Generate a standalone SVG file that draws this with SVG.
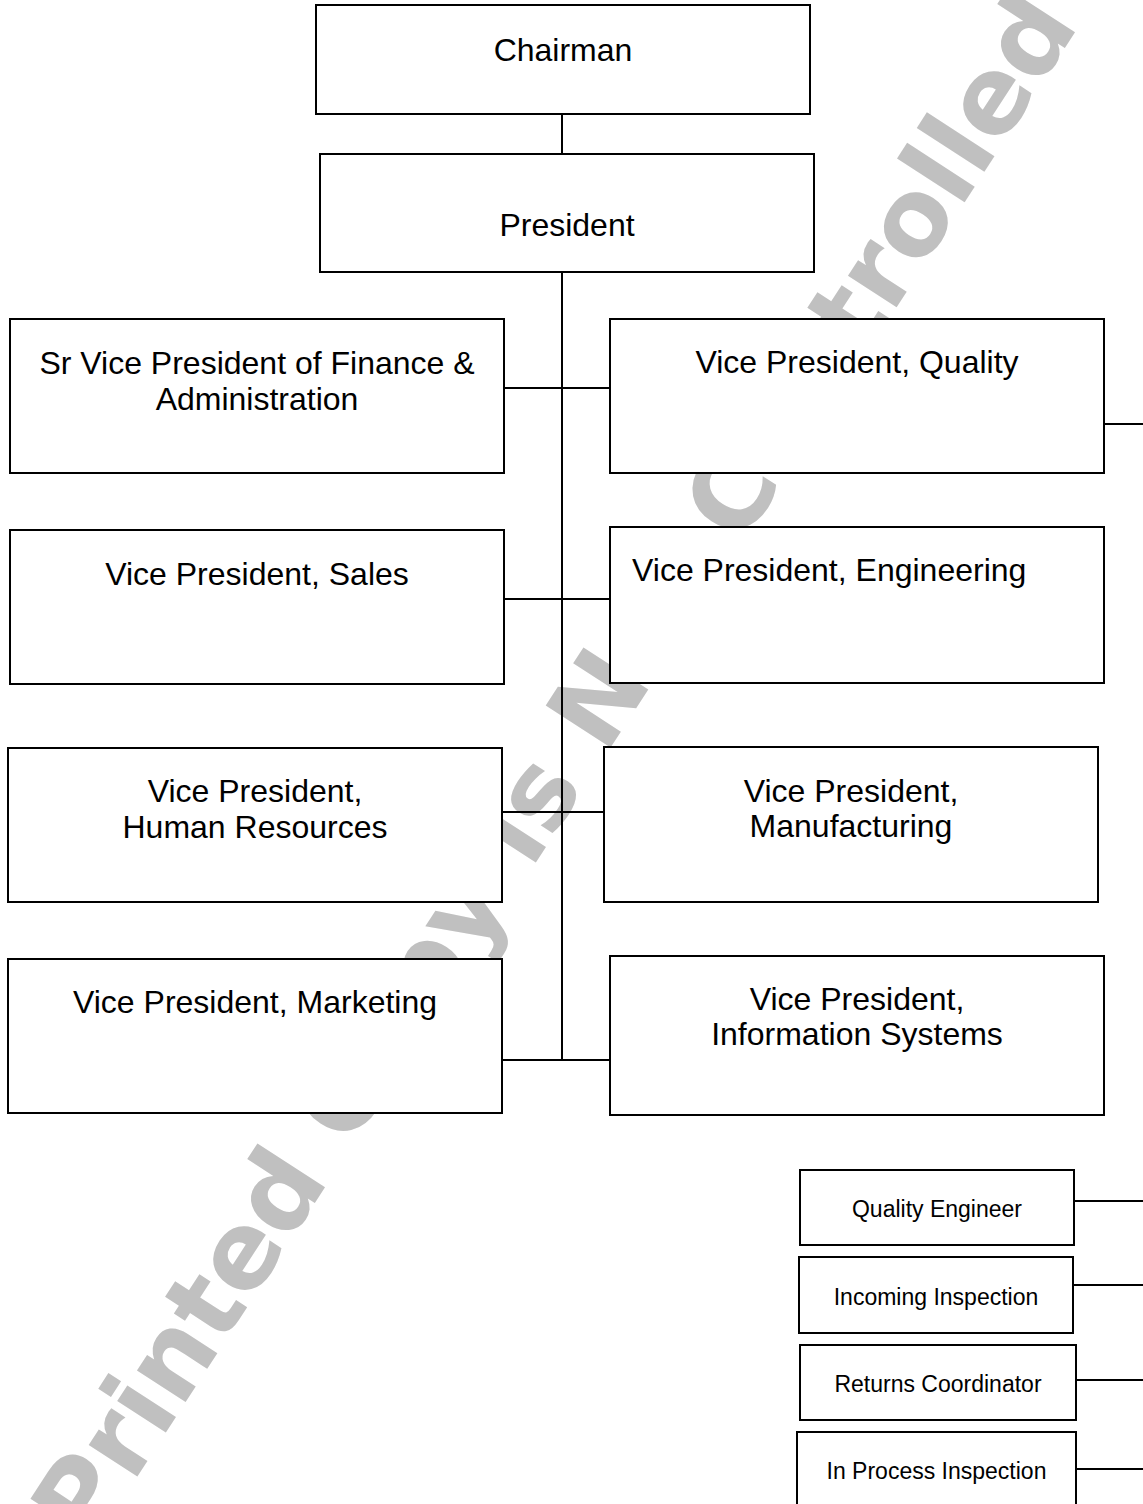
<svg xmlns="http://www.w3.org/2000/svg" width="1143" height="1504" viewBox="0 0 1143 1504">
  <style>
    .box { fill: #ffffff; stroke: #000000; stroke-width: 2; }
    .lbl { font-family: "Liberation Sans", Arial, sans-serif; font-size: 32px; fill: #000000; text-anchor: middle; }
    .lbl-start { text-anchor: start; }
    .sm { font-family: "Liberation Sans", Arial, sans-serif; font-size: 23px; fill: #000000; text-anchor: middle; }
    .wire { stroke: #000000; stroke-width: 2; fill: none; }
    .stamp { font-family: "DejaVu Sans", "Liberation Sans", sans-serif; font-weight: bold; font-size: 106px; fill: #c0c0c0; text-anchor: middle; }
  </style>

  <rect x="0" y="0" width="1143" height="1504" fill="#ffffff"/>

  <!-- diagonal stamp behind everything -->
  <g id="stamp">
    <text class="stamp" transform="translate(585 787) rotate(-57)" x="0" y="0">Printed Copy is Not Controlled</text>
  </g>

  <g id="connectors">
    <line class="wire" x1="562" y1="114" x2="562" y2="154"/>
    <line class="wire" x1="562" y1="272" x2="562" y2="1061"/>
    <line class="wire" x1="504" y1="388" x2="610" y2="388"/>
    <line class="wire" x1="504" y1="599" x2="610" y2="599"/>
    <line class="wire" x1="502" y1="812" x2="604" y2="812"/>
    <line class="wire" x1="502" y1="1060" x2="610" y2="1060"/>
    <line class="wire" x1="1104" y1="424" x2="1143" y2="424"/>
    <line class="wire" x1="1074" y1="1201" x2="1143" y2="1201"/>
    <line class="wire" x1="1073" y1="1285" x2="1143" y2="1285"/>
    <line class="wire" x1="1076" y1="1380" x2="1143" y2="1380"/>
    <line class="wire" x1="1076" y1="1469" x2="1143" y2="1469"/>
  </g>

  <g id="chairman">
    <rect class="box" x="316" y="5" width="494" height="109"/>
    <text class="lbl" x="563" y="61">Chairman</text>
  </g>
  <g id="president">
    <rect class="box" x="320" y="154" width="494" height="118"/>
    <text class="lbl" x="567" y="236">President</text>
  </g>

  <g id="vp-finance">
    <rect class="box" x="10" y="319" width="494" height="154"/>
    <text class="lbl" x="257" y="374">Sr Vice President of Finance &amp;</text>
    <text class="lbl" x="257" y="410">Administration</text>
  </g>
  <g id="vp-quality">
    <rect class="box" x="610" y="319" width="494" height="154"/>
    <text class="lbl" x="857" y="373">Vice President, Quality</text>
  </g>

  <g id="vp-sales">
    <rect class="box" x="10" y="530" width="494" height="154"/>
    <text class="lbl" x="257" y="585">Vice President, Sales</text>
  </g>
  <g id="vp-engineering">
    <rect class="box" x="610" y="527" width="494" height="156"/>
    <text class="lbl lbl-start" x="632" y="581">Vice President, Engineering</text>
  </g>

  <g id="vp-hr">
    <rect class="box" x="8" y="748" width="494" height="154"/>
    <text class="lbl" x="255" y="802">Vice President,</text>
    <text class="lbl" x="255" y="838">Human Resources</text>
  </g>
  <g id="vp-manufacturing">
    <rect class="box" x="604" y="747" width="494" height="155"/>
    <text class="lbl" x="851" y="802">Vice President,</text>
    <text class="lbl" x="851" y="837">Manufacturing</text>
  </g>

  <g id="vp-marketing">
    <rect class="box" x="8" y="959" width="494" height="154"/>
    <text class="lbl" x="255" y="1013">Vice President, Marketing</text>
  </g>
  <g id="vp-is">
    <rect class="box" x="610" y="956" width="494" height="159"/>
    <text class="lbl" x="857" y="1010">Vice President,</text>
    <text class="lbl" x="857" y="1045">Information Systems</text>
  </g>

  <g id="quality-engineer">
    <rect class="box" x="800" y="1170" width="274" height="75"/>
    <text class="sm" x="937" y="1217">Quality Engineer</text>
  </g>
  <g id="incoming-inspection">
    <rect class="box" x="799" y="1257" width="274" height="76"/>
    <text class="sm" x="936" y="1305">Incoming Inspection</text>
  </g>
  <g id="returns-coordinator">
    <rect class="box" x="800" y="1345" width="276" height="75"/>
    <text class="sm" x="938" y="1392">Returns Coordinator</text>
  </g>
  <g id="in-process-inspection">
    <rect class="box" x="797" y="1432" width="279" height="80"/>
    <text class="sm" x="936.5" y="1479">In Process Inspection</text>
  </g>
</svg>
